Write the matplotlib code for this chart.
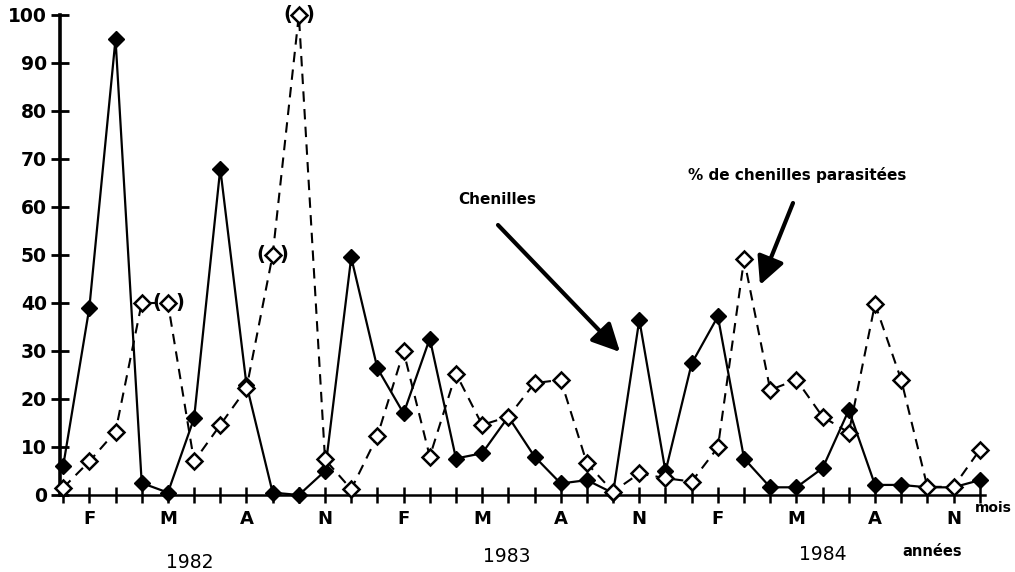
import matplotlib
matplotlib.use('Agg')
import matplotlib.pyplot as plt
from matplotlib.transforms import blended_transform_factory

# ---- data ----
month_index = list(range(36))
month_labels = ['', 'F', '', '', 'M', '', '', 'A', '', '', 'N', '',
                '', 'F', '', '', 'M', '', '', 'A', '', '', 'N', '',
                '', 'F', '', '', 'M', '', '', 'A', '', '', 'N', '']
years = ['1982', '1983', '1984']
chenilles = [6, 39, 95, 2.5, 0.5, 16, 68, 23, 0.5, 0, 5, 49.5,
             26.4, 17, 32.6, 7.6, 8.7, 16.3, 8, 2.4, 3.1, 0.4, 36.5, 4.9,
             27.4, 37.2, 7.6, 1.6, 1.6, 5.6, 17.7, 2.1, 2.1, 1.6, 1.6, 3.1]
parasitees = [1.5, 7, 13.2, 40, 40, 7, 14.6, 22.2, 50, 100, 7.4, 1.2,
              12.3, 29.9, 8, 25.3, 14.6, 16.3, 23.3, 24, 6.6, 0.7, 4.5, 3.5,
              2.8, 9.9, 49.1, 21.9, 24, 16.3, 13, 39.8, 24, 1.7, 1.7, 9.4]
bracketed = [4, 8, 9]
yticks = [0, 10, 20, 30, 40, 50, 60, 70, 80, 90, 100]

FONT = 'DejaVu Sans'

fig = plt.figure(figsize=(10.15, 5.72), dpi=100)
ax = fig.add_axes([60/1015, 1 - 495/572, (985-60)/1015, (495-15)/572])

ax.plot(month_index, chenilles, color='black', lw=1.6, marker='D', ms=8.5,
        mfc='black', mec='black', clip_on=False, zorder=3)
ax.plot(month_index, parasitees, color='black', lw=1.5, ls=(0, (5, 3.5)),
        marker='D', ms=8.5, mfc='white', mec='black', mew=1.8,
        clip_on=False, zorder=4)

for i in bracketed:
    ax.annotate('(', (month_index[i], parasitees[i]), xytext=(-8.3, 0.5),
                textcoords='offset points', ha='center', va='center',
                fontsize=14, family=FONT, fontweight='bold', zorder=5)
    ax.annotate(')', (month_index[i], parasitees[i]), xytext=(8.3, 0.5),
                textcoords='offset points', ha='center', va='center',
                fontsize=14, family=FONT, fontweight='bold', zorder=5)

ax.set_xlim(-0.12, 35.2)
ax.set_ylim(0, 100)
for s in ['top', 'right']:
    ax.spines[s].set_visible(False)
ax.spines['left'].set_linewidth(2.6)
ax.spines['bottom'].set_linewidth(1.8)

ax.set_yticks(yticks)
ax.set_yticklabels([str(v) for v in yticks], fontsize=13.5, family=FONT,
                   fontweight='bold')
ax.tick_params(axis='y', direction='inout', length=13, width=2, pad=3)
ax.set_xticks(month_index)
ax.set_xticklabels(month_labels, fontsize=13, family=FONT, fontweight='bold')
ax.tick_params(axis='x', direction='inout', length=11, width=1.8, pad=5)

trans = blended_transform_factory(ax.transData, fig.transFigure)
year_x = [4.85, 16.95, 29.0]
year_y = [562, 557, 555]
for yr, xx, yy in zip(years, year_x, year_y):
    ax.text(xx, 1 - yy/572, yr, transform=trans, ha='center', va='center',
            fontsize=13.5, family=FONT)
ax.text(33.2, 1 - 551/572, 'années', transform=trans, ha='center',
        va='center', fontsize=10.5, family=FONT, fontweight='bold')
fig.text(993/1015, 1 - 508/572, 'mois', ha='center',
         va='center', fontsize=10, family=FONT, fontweight='bold')

# annotations with arrows (figure pixel coords)
ax.annotate('', xy=(620, 572-352), xycoords='figure pixels',
            xytext=(498, 572-225), textcoords='figure pixels',
            arrowprops=dict(arrowstyle='-|>', lw=3, color='black',
                            mutation_scale=42, shrinkA=0, shrinkB=0))
fig.text(497/1015, 1 - 199/572, 'Chenilles', ha='center', va='center',
         fontsize=11, family=FONT, fontweight='bold')
ax.annotate('', xy=(760, 572-285), xycoords='figure pixels',
            xytext=(793, 572-203), textcoords='figure pixels',
            arrowprops=dict(arrowstyle='-|>', lw=3, color='black',
                            mutation_scale=42, shrinkA=0, shrinkB=0))
fig.text(797/1015, 1 - 175/572, '% de chenilles parasitées', ha='center',
         va='center', fontsize=11, family=FONT, fontweight='bold')

fig.savefig('out.png', dpi=100)
